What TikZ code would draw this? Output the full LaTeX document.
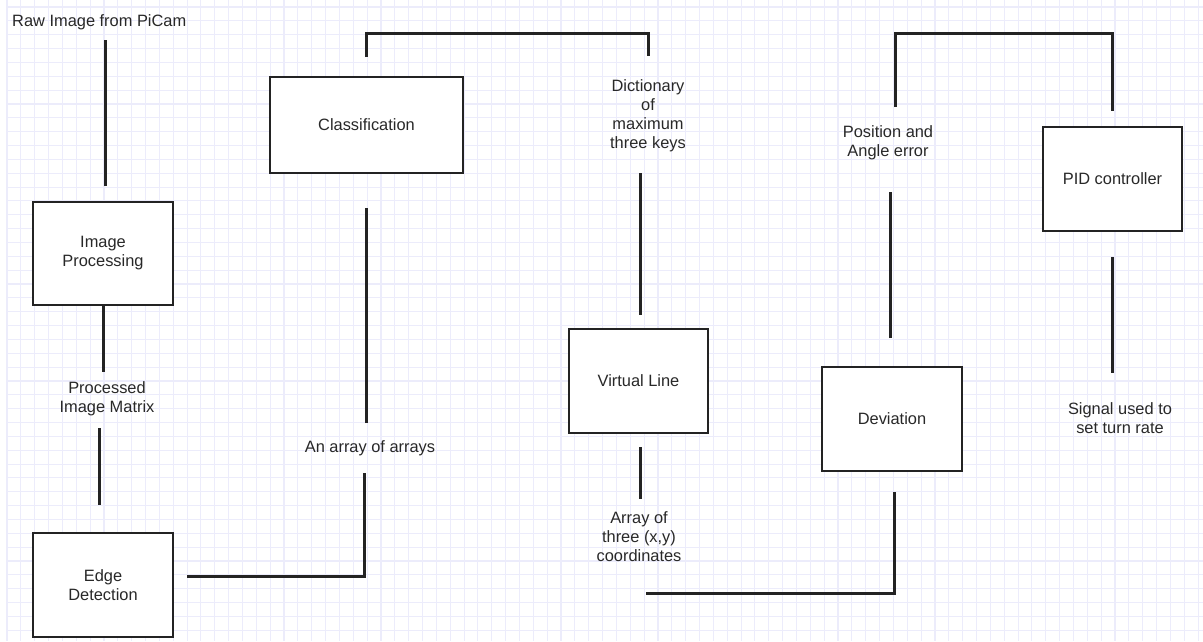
\documentclass[tikz,border=0pt]{standalone}
\usepackage{fontspec}
\setmainfont{Liberation Sans}
\definecolor{gridc}{RGB}{236,236,251}
\definecolor{linec}{RGB}{35,35,35}
\definecolor{textc}{RGB}{40,40,40}
\tikzset{
  gridline/.style={draw=gridc, line width=1.1pt},
  procbox/.style={draw=linec, fill=white, line width=2.8pt, inner sep=0pt, align=center, text=textc},
  lbl/.style={inner sep=0pt, align=center, text=textc},
  conn/.style={draw=linec, line width=3pt, line cap=butt, line join=miter},
}
\begin{document}
\begin{tikzpicture}[x=1pt,y=-1pt,font=\fontsize{16.4}{19}\selectfont]
\useasboundingbox (0,0) rectangle (1203,641);
\fill[white] (0,0) rectangle (1203,641);
% grid
\foreach \i in {0,...,86} {
  \draw[gridline] ({7+\i*13.85},0) -- ({7+\i*13.85},641);
}
\foreach \j in {0,...,45} {
  \draw[gridline] (7,{7+\j*13.85}) -- (1203,{7+\j*13.85});
}
% boxes
\node[procbox, minimum width=140pt, minimum height=103pt] (improc) at (103,253.5) {Image\\Processing};
\node[procbox, minimum width=140pt, minimum height=104pt] (edge) at (103,585) {Edge\\Detection};
\node[procbox, minimum width=193pt, minimum height=96pt] (classif) at (366.5,125) {Classification};
\node[procbox, minimum width=139pt, minimum height=104pt] (vline) at (638.5,381) {Virtual Line};
\node[procbox, minimum width=140pt, minimum height=104pt] (dev) at (892,419) {Deviation};
\node[procbox, minimum width=139pt, minimum height=104pt] (pid) at (1112.5,179) {PID controller};
% labels
\node[lbl, anchor=base west] (raw) at (12,26) {Raw Image from PiCam};
\node[lbl] (proc) at (107,399) {Processed\\Image Matrix};
\node[lbl] (arr) at (370,448) {An array of arrays};
\node[lbl] (dict) at (648,116) {Dictionary\\of\\maximum\\three keys};
\node[lbl] (coords) at (639,536.5) {Array of\\three (x,y)\\coordinates};
\node[lbl] (pos) at (888,142.5) {Position and\\Angle error};
\node[lbl] (sig) at (1120,418.5) {Signal used to\\set turn rate};
% connector end points
\coordinate (c1a) at (105.5,40);   \coordinate (c1b) at (105.5,186);
\coordinate (c2a) at (103,305);    \coordinate (c2b) at (103,372);
\coordinate (c3a) at (99,428);     \coordinate (c3b) at (99,505);
\coordinate (c4a) at (187,576);    \coordinate (c4b) at (364,576);  \coordinate (c4c) at (364,473);
\coordinate (c5a) at (366,423);    \coordinate (c5b) at (366,208);
\coordinate (c6a) at (366,57);     \coordinate (c6b) at (366,33);   \coordinate (c6c) at (648,33); \coordinate (c6d) at (648,56);
\coordinate (c7a) at (640,173);    \coordinate (c7b) at (640,315);
\coordinate (c8a) at (640,447);    \coordinate (c8b) at (640,499);
\coordinate (c9a) at (646,593);    \coordinate (c9b) at (894,593);  \coordinate (c9c) at (894,492);
\coordinate (c10a) at (890,338);   \coordinate (c10b) at (890,192);
\coordinate (c11a) at (895,107);   \coordinate (c11b) at (895,33);  \coordinate (c11c) at (1112,33); \coordinate (c11d) at (1112,111);
\coordinate (c12a) at (1112,257);  \coordinate (c12b) at (1112,373);
% connectors
\draw[conn] (c1a) -- (c1b);
\draw[conn] (c2a) -- (c2b);
\draw[conn] (c3a) -- (c3b);
\draw[conn] (c4a) -- (c4b) -- (c4c);
\draw[conn] (c5a) -- (c5b);
\draw[conn] (c6a) -- (c6b) -- (c6c) -- (c6d);
\draw[conn] (c7a) -- (c7b);
\draw[conn] (c8a) -- (c8b);
\draw[conn] (c9a) -- (c9b) -- (c9c);
\draw[conn] (c10a) -- (c10b);
\draw[conn] (c11a) -- (c11b) -- (c11c) -- (c11d);
\draw[conn] (c12a) -- (c12b);
\end{tikzpicture}
\end{document}
